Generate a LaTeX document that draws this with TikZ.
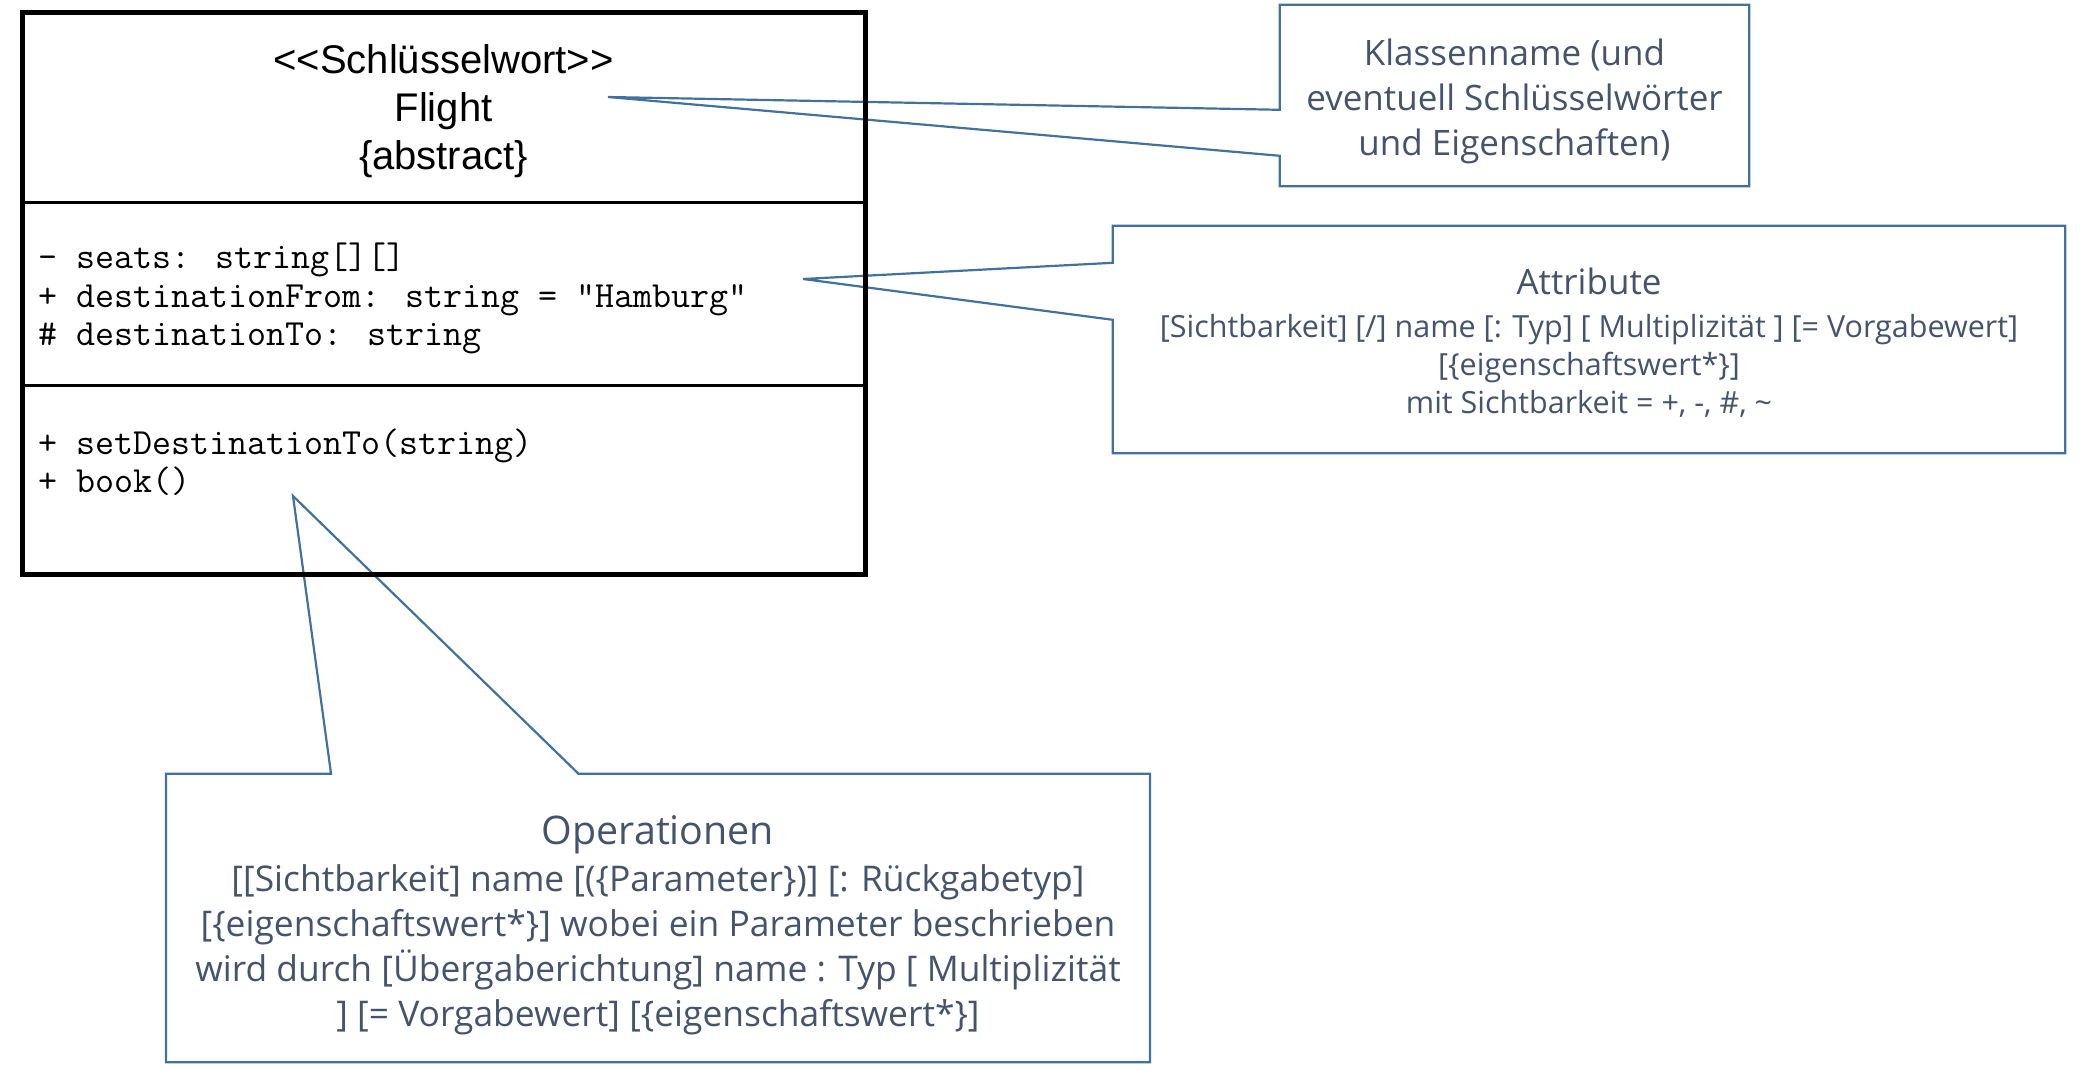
\documentclass[tikz,border=0pt]{standalone}
\usepackage{fontspec}
\usepackage{xcolor}
\usetikzlibrary{positioning,calc}

\newfontfamily\umlfont[Ligatures=TeXOff]{Liberation Sans}
\newfontfamily\notefont{Open Sans}
\definecolor{noteline}{HTML}{41719C}
\definecolor{notetext}{HTML}{44546A}

\begin{document}
\begin{tikzpicture}[x=1pt,y=-1pt,
  classbox/.style={draw=black, line width=5pt, inner sep=0pt},
  divline/.style={draw=black, line width=3.5pt},
  notebox/.style={inner sep=0pt},
  notetext/.style={inner sep=0pt, align=center, text=notetext, font=\notefont\fontsize{35}{45}\selectfont},
  noteline/.style={draw=noteline, line width=2.2pt},
  member/.style={anchor=west, inner sep=0pt, align=left, font=\ttfamily\fontsize{36.9}{38.5}\selectfont}
]
\useasboundingbox (0,0) rectangle (2084,1090);

% Callout: class name
\node[notebox, minimum width=469pt, minimum height=181pt] (kname) at (1514.5,95.5) {};
\node[notetext] (knametext) at ($(kname.center)+(0,6)$)
  {Klassenname (und\\eventuell Schlüsselwörter\\und Eigenschaften)};
\coordinate (ktip) at (608,97);
\draw[noteline] (kname.north west) -- (kname.north east) -- (kname.south east) -- (kname.south west)
  -- ($(kname.north west)+(0,151)$) -- (ktip) -- ($(kname.north west)+(0,105)$) -- cycle;

% Callout: attributes
\node[notebox, minimum width=952pt, minimum height=227pt] (attr) at (1589,339.5) {};
\node[notetext, font=\notefont\fontsize{30.5}{38}\selectfont] (attrtext) at ($(attr.center)+(0,3.5)$)
  {{\fontsize{35}{42}\selectfont Attribute}\\[5pt]\relax[Sichtbarkeit] [/] name [: Typ] [ Multiplizität ] [= Vorgabewert]\\{}[\{eigenschaftswert*\}]\\mit Sichtbarkeit = +, -, \#, \textasciitilde};
\coordinate (atip) at (803,279);
\draw[noteline] (attr.north west) -- (attr.north east) -- (attr.south east) -- (attr.south west)
  -- ($(attr.north west)+(0,94)$) -- (atip) -- ($(attr.north west)+(0,37)$) -- cycle;

% Callout: operations
\node[notebox, minimum width=983.5pt, minimum height=288pt] (opnote) at (658,918) {};
\node[notetext, font=\notefont\fontsize{35.4}{45}\selectfont] (optext) at ($(opnote.center)+(0,7)$)
  {{\fontsize{39.4}{46}\selectfont Operationen}\\[2pt]\relax[[Sichtbarkeit] name [(\{Parameter\})] [: Rückgabetyp]\\{}[\{eigenschaftswert*\}] wobei ein Parameter beschrieben\\wird durch [Übergaberichtung] name : Typ [ Multiplizität\\{}] [= Vorgabewert] [\{eigenschaftswert*\}]};
\coordinate (otip) at (293,496);
\draw[noteline] (opnote.north west) -- ($(opnote.north west)+(165,0)$) -- (otip) -- ($(opnote.north west)+(412.5,0)$)
  -- (opnote.north east) -- (opnote.south east) -- (opnote.south west) -- cycle;

% Class Flight
\node[classbox, minimum width=843pt, minimum height=562pt] (flight) at (443.5,293) {};
\draw[divline] ($(flight.north west)+(0,193)$) -- ($(flight.north east)+(0,193)$);
\draw[divline] ($(flight.north west)+(0,376)$) -- ($(flight.north east)+(0,376)$);
\node[font=\umlfont\fontsize{40}{48}\selectfont, align=center, inner sep=0pt] (fname) at (443.5,111.5)
  {<<Schlüsselwort>>\\Flight\\\{abstract\}};
\node[member] (attribs) at (38,298.5) {- seats: string[][]\\+ destinationFrom: string = "Hamburg"\\\# destinationTo: string};
\node[member] (methods) at (38,462) {+ setDestinationTo(string)\\+ book()};

\end{tikzpicture}
\end{document}
